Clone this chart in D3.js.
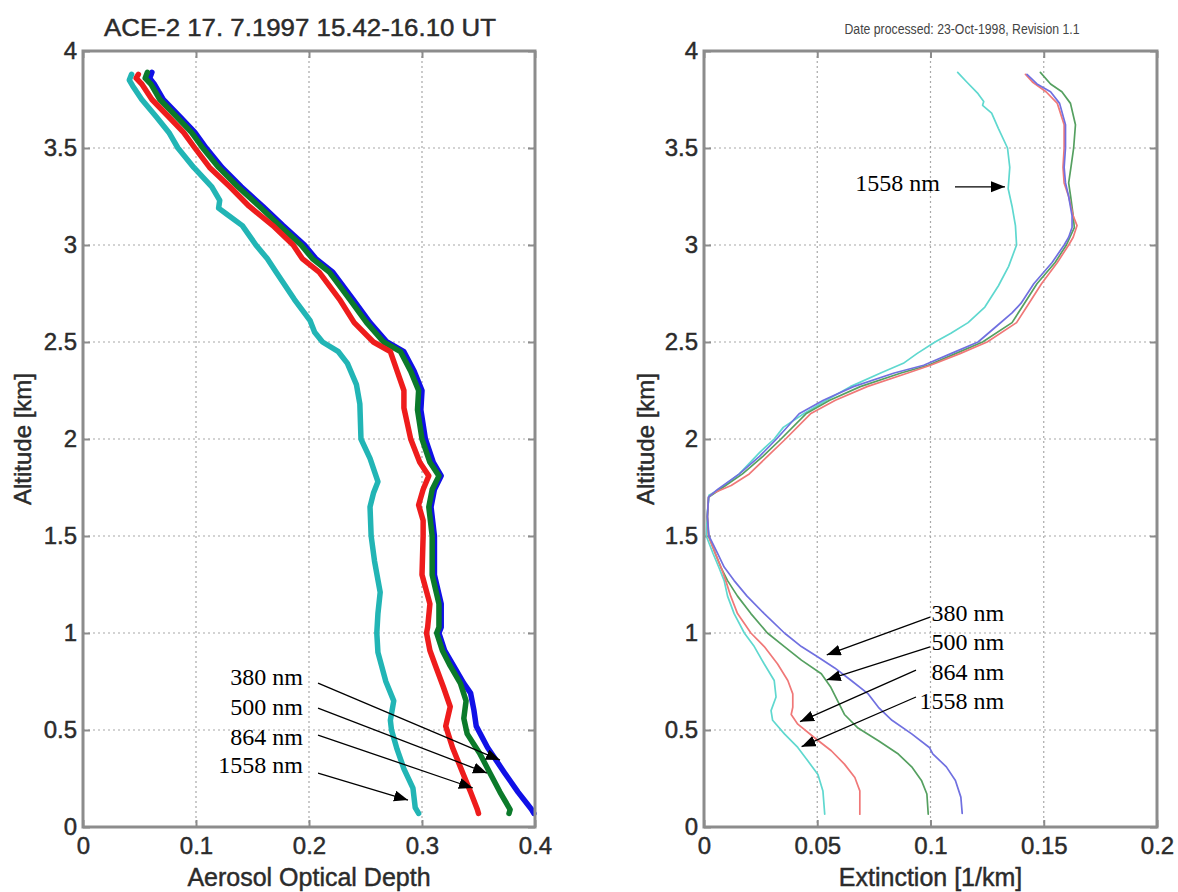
<!DOCTYPE html>
<html><head><meta charset="utf-8">
<script src="https://cdn.jsdelivr.net/npm/d3@7"></script>
<style>body{margin:0;background:#fff}svg{display:block}</style>
</head><body><svg id="c" width="1178" height="892"></svg>
<script>
// ---------- data ----------
const altTicks=[0,0.5,1,1.5,2,2.5,3,3.5,4];
const altTickLabels=["0","0.5","1","1.5","2","2.5","3","3.5","4"];
const aodTicks=[0,0.1,0.2,0.3,0.4];
const aodTickLabels=["0","0.1","0.2","0.3","0.4"];
const extTicks=[0,0.05,0.1,0.15,0.2];
const extTickLabels=["0","0.05","0.1","0.15","0.2"];
const wavelengths=["380 nm","500 nm","864 nm","1558 nm"];
const leftTitle="ACE-2 17. 7.1997 15.42-16.10 UT";
const rightTitle="Date processed: 23-Oct-1998, Revision 1.1";

// AOD profiles: [altitude km, aerosol optical depth]
const aod380=[[3.89,0.061],[3.86,0.059],[3.83,0.063],[3.75,0.071],[3.66,0.086],[3.58,0.099],[3.5,0.109],[3.4,0.123],[3.3,0.140],[3.2,0.159],[3.1,0.177],[3.0,0.196],[2.93,0.206],[2.86,0.221],[2.72,0.239],[2.6,0.254],[2.5,0.269],[2.45,0.284],[2.35,0.293],[2.25,0.300],[2.15,0.299],[2.0,0.303],[1.88,0.310],[1.81,0.317],[1.74,0.311],[1.65,0.308],[1.5,0.311],[1.3,0.311],[1.15,0.317],[1.03,0.317],[1.0,0.315],[0.91,0.320],[0.83,0.328],[0.74,0.337],[0.69,0.343],[0.6,0.346],[0.52,0.348],[0.41,0.358],[0.28,0.373],[0.18,0.385],[0.09,0.397],[0.07,0.399]];
const aod500=[[3.89,0.057],[3.86,0.055],[3.83,0.060],[3.75,0.068],[3.66,0.083],[3.58,0.096],[3.5,0.106],[3.4,0.120],[3.3,0.137],[3.2,0.156],[3.1,0.174],[3.0,0.193],[2.93,0.203],[2.86,0.218],[2.72,0.236],[2.6,0.251],[2.5,0.266],[2.45,0.281],[2.35,0.290],[2.25,0.297],[2.15,0.296],[2.0,0.300],[1.88,0.307],[1.81,0.315],[1.74,0.309],[1.65,0.306],[1.5,0.309],[1.3,0.309],[1.15,0.315],[1.03,0.315],[1.0,0.313],[0.91,0.318],[0.83,0.325],[0.74,0.334],[0.65,0.339],[0.56,0.337],[0.48,0.340],[0.38,0.351],[0.28,0.360],[0.18,0.369],[0.09,0.378],[0.07,0.377]];
const aod864=[[3.88,0.049],[3.86,0.047],[3.83,0.052],[3.75,0.061],[3.66,0.076],[3.58,0.089],[3.5,0.099],[3.4,0.112],[3.3,0.130],[3.2,0.147],[3.1,0.168],[3.0,0.186],[2.93,0.194],[2.86,0.209],[2.72,0.227],[2.6,0.240],[2.5,0.257],[2.45,0.272],[2.35,0.278],[2.25,0.284],[2.16,0.284],[2.0,0.290],[1.88,0.298],[1.81,0.306],[1.74,0.301],[1.66,0.297],[1.58,0.301],[1.5,0.301],[1.3,0.300],[1.15,0.307],[1.03,0.305],[1.0,0.304],[0.91,0.307],[0.83,0.312],[0.72,0.319],[0.62,0.325],[0.52,0.321],[0.41,0.327],[0.28,0.336],[0.18,0.343],[0.09,0.349],[0.07,0.350]];
const aod1558=[[3.88,0.043],[3.85,0.041],[3.82,0.044],[3.75,0.052],[3.66,0.065],[3.58,0.076],[3.5,0.084],[3.4,0.098],[3.3,0.114],[3.23,0.121],[3.19,0.120],[3.16,0.127],[3.1,0.141],[3.0,0.153],[2.93,0.163],[2.86,0.171],[2.72,0.187],[2.61,0.201],[2.55,0.205],[2.5,0.212],[2.45,0.226],[2.39,0.234],[2.28,0.242],[2.18,0.245],[2.0,0.246],[1.9,0.254],[1.78,0.261],[1.72,0.257],[1.65,0.254],[1.5,0.255],[1.37,0.258],[1.21,0.263],[1.1,0.261],[1.0,0.260],[0.9,0.261],[0.75,0.268],[0.65,0.275],[0.55,0.272],[0.5,0.273],[0.4,0.278],[0.3,0.284],[0.2,0.292],[0.1,0.294],[0.07,0.297]];

// Extinction profiles: [altitude km, extinction 1/km]
const ext380=[[3.88,0.1426],[3.83,0.147],[3.79,0.153],[3.73,0.157],[3.62,0.1596],[3.5,0.1596],[3.4,0.159],[3.32,0.1596],[3.25,0.161],[3.15,0.1625],[3.09,0.1625],[3.04,0.161],[3.0,0.159],[2.91,0.1537],[2.8,0.1456],[2.7,0.140],[2.65,0.136],[2.58,0.129],[2.5,0.121],[2.44,0.109],[2.38,0.097],[2.34,0.084],[2.27,0.066],[2.2,0.0527],[2.13,0.042],[2.0,0.032],[1.91,0.0245],[1.82,0.0156],[1.74,0.006],[1.7,0.002],[1.6,0.0015],[1.5,0.0022],[1.41,0.006],[1.34,0.0089],[1.27,0.0133],[1.19,0.019],[1.1,0.0266],[1.0,0.0355],[0.93,0.043],[0.876,0.0503],[0.82,0.0577],[0.755,0.065],[0.686,0.0725],[0.617,0.077],[0.55,0.083],[0.48,0.0917],[0.41,0.0995],[0.377,0.101],[0.31,0.107],[0.24,0.111],[0.154,0.1134],[0.07,0.114]];
const ext500=[[3.89,0.1485],[3.83,0.153],[3.79,0.158],[3.73,0.1618],[3.62,0.164],[3.5,0.1632],[3.4,0.162],[3.32,0.161],[3.24,0.162],[3.15,0.163],[3.09,0.1635],[3.0,0.160],[2.91,0.155],[2.8,0.147],[2.7,0.1415],[2.6,0.136],[2.5,0.123],[2.44,0.111],[2.38,0.099],[2.34,0.087],[2.27,0.069],[2.2,0.0555],[2.13,0.045],[2.0,0.034],[1.91,0.026],[1.82,0.017],[1.74,0.007],[1.7,0.002],[1.6,0.0015],[1.5,0.002],[1.41,0.005],[1.34,0.0074],[1.27,0.0104],[1.19,0.0148],[1.1,0.0207],[1.0,0.028],[0.93,0.0355],[0.86,0.043],[0.79,0.0518],[0.72,0.056],[0.65,0.059],[0.58,0.062],[0.51,0.068],[0.445,0.077],[0.376,0.0858],[0.31,0.0917],[0.24,0.096],[0.17,0.0984],[0.066,0.099]];
const ext864=[[3.88,0.1419],[3.84,0.145],[3.79,0.151],[3.73,0.156],[3.62,0.159],[3.5,0.159],[3.4,0.1585],[3.32,0.159],[3.25,0.161],[3.15,0.163],[3.1,0.1647],[3.04,0.163],[3.0,0.161],[2.91,0.156],[2.8,0.149],[2.7,0.1435],[2.6,0.138],[2.5,0.125],[2.44,0.113],[2.38,0.100],[2.34,0.090],[2.27,0.072],[2.2,0.058],[2.13,0.047],[2.0,0.036],[1.91,0.028],[1.82,0.020],[1.76,0.012],[1.72,0.004],[1.7,0.002],[1.6,0.0015],[1.5,0.002],[1.41,0.005],[1.34,0.0075],[1.27,0.0096],[1.19,0.0118],[1.1,0.0148],[1.0,0.0207],[0.93,0.0266],[0.84,0.0325],[0.755,0.037],[0.686,0.0392],[0.617,0.0392],[0.58,0.0385],[0.53,0.0414],[0.46,0.0488],[0.393,0.0562],[0.324,0.062],[0.255,0.0666],[0.186,0.0688],[0.066,0.0688]];
const ext1558=[[3.89,0.112],[3.84,0.116],[3.78,0.121],[3.74,0.1235],[3.72,0.123],[3.68,0.127],[3.6,0.130],[3.5,0.134],[3.4,0.135],[3.29,0.1343],[3.2,0.136],[3.1,0.1375],[3.0,0.138],[2.89,0.1345],[2.79,0.130],[2.68,0.124],[2.6,0.1166],[2.545,0.109],[2.5,0.102],[2.44,0.094],[2.39,0.088],[2.34,0.078],[2.27,0.0646],[2.2,0.054],[2.13,0.044],[2.06,0.035],[2.0,0.031],[1.93,0.0245],[1.82,0.0156],[1.74,0.0067],[1.71,0.0022],[1.62,0.0015],[1.5,0.001],[1.41,0.004],[1.34,0.0065],[1.27,0.0089],[1.19,0.0104],[1.1,0.0133],[1.0,0.0178],[0.93,0.0222],[0.84,0.0266],[0.755,0.031],[0.67,0.0318],[0.6,0.0296],[0.55,0.0303],[0.48,0.0355],[0.41,0.0414],[0.34,0.0459],[0.27,0.0503],[0.186,0.0525],[0.066,0.0533]];

// annotation anchors in data units: [value, altitude]
const leftLabelPos=[[0.1947,0.773],[0.1947,0.619],[0.1947,0.464],[0.1947,0.32]];
const leftArrowFrom=[[0.208,0.742],[0.208,0.613],[0.208,0.474],[0.208,0.278]];
const leftArrowTo=[[0.369,0.345],[0.3575,0.278],[0.345,0.201],[0.2876,0.139]];
const rightLabelPos=[[0.1325,1.103],[0.1325,0.954],[0.1325,0.799],[0.1325,0.649]];
const rightArrowFrom=[[0.0998,1.082],[0.0998,0.928],[0.0936,0.809],[0.0936,0.670]];
const rightArrowTo=[[0.0542,0.887],[0.0542,0.758],[0.0424,0.543],[0.0431,0.414]];
const topLabelPos=[0.1042,3.32];
const topArrowFrom=[0.1108,3.30];
const topArrowTo=[0.1329,3.30];

// ---------- drawing ----------
const svg=d3.select("#c");
svg.append("rect").attr("width",1178).attr("height",892).attr("fill","#fff");
svg.append("defs").append("marker").attr("id","ah")
  .attr("markerUnits","userSpaceOnUse").attr("markerWidth",15).attr("markerHeight",12)
  .attr("refX",14).attr("refY",5.5).attr("orient","auto")
  .append("path").attr("d","M0,0 L14,5.5 L0,11 Z").attr("fill","#000");

const SANS="'Liberation Sans', Arial, Helvetica, sans-serif";
const SERIF="'Liberation Serif', 'Times New Roman', serif";
const y=d3.scaleLinear().domain([0,4]).range([827,51]);
const frameCol="#8c8c8c", txtCol="#2b2b2b";
const heavy=(t)=>t.attr("stroke",txtCol).attr("stroke-width",0.45);

function panel(x, xTicks, xLabels, xTitle, series, colors, lw, yLabelX){
  const g=svg.append("g");
  const [x0,x1]=x.range();
  // grid
  xTicks.slice(1,-1).forEach(t=>g.append("line").attr("x1",x(t)).attr("x2",x(t)).attr("y1",y(4)).attr("y2",y(0))
     .attr("stroke","#a8a8a8").attr("stroke-width",1.2).attr("stroke-dasharray","2,3"));
  altTicks.slice(1,-1).forEach(t=>g.append("line").attr("x1",x0).attr("x2",x1).attr("y1",y(t)).attr("y2",y(t))
     .attr("stroke","#a8a8a8").attr("stroke-width",1.2).attr("stroke-dasharray","2,3"));
  // axes
  const style=(a)=>{a.select(".domain").remove();
    a.selectAll(".tick line").attr("stroke",frameCol).attr("stroke-width",2);
    a.selectAll("text").attr("font-family",SANS).attr("font-size",24).attr("fill",txtCol).call(heavy);};
  g.append("g").attr("transform",`translate(0,${y(0)})`)
    .call(d3.axisBottom(x).tickValues(xTicks).tickFormat((d,i)=>xLabels[i]).tickSizeInner(-7).tickSizeOuter(0).tickPadding(10)).call(style);
  g.append("g").attr("transform",`translate(0,${y(4)})`)
    .call(d3.axisTop(x).tickValues(xTicks).tickFormat("").tickSizeInner(-7).tickSizeOuter(0)).call(style);
  g.append("g").attr("transform",`translate(${x0},0)`)
    .call(d3.axisLeft(y).tickValues(altTicks).tickFormat((d,i)=>altTickLabels[i]).tickSizeInner(-7).tickSizeOuter(0).tickPadding(6)).call(style);
  g.append("g").attr("transform",`translate(${x1},0)`)
    .call(d3.axisRight(y).tickValues(altTicks).tickFormat("").tickSizeInner(-7).tickSizeOuter(0)).call(style);
  // curves
  const line=d3.line().x(d=>x(d[1])).y(d=>y(d[0]));
  series.forEach((s,i)=>g.append("path").attr("d",line(s)).attr("fill","none").attr("stroke",colors[i])
     .attr("stroke-width",lw).attr("stroke-linejoin","round").attr("stroke-linecap","round"));
  // frame
  g.append("rect").attr("x",x0).attr("y",y(4)).attr("width",x1-x0).attr("height",y(0)-y(4))
    .attr("fill","none").attr("stroke",frameCol).attr("stroke-width",3);
  // axis titles
  g.append("text").attr("x",(x0+x1)/2).attr("y",886).attr("text-anchor","middle")
    .attr("font-family",SANS).attr("font-size",25).attr("fill",txtCol).call(heavy).text(xTitle);
  g.append("text").attr("transform",`translate(${yLabelX},${(y(0)+y(4))/2}) rotate(-90)`).attr("text-anchor","middle")
    .attr("dy","0.35em").attr("font-family",SANS).attr("font-size",24).attr("fill",txtCol).call(heavy).text("Altitude [km]");
  return g;
}
function annotate(g,x,pos,from,to,labels){
  labels.forEach((lab,i)=>{
    g.append("text").attr("x",x(pos[i][0])).attr("y",y(pos[i][1])).attr("dy","0.33em").attr("text-anchor","end")
      .attr("font-family",SERIF).attr("font-size",24).attr("fill","#000").text(lab);
    g.append("line").attr("x1",x(from[i][0])).attr("y1",y(from[i][1])).attr("x2",x(to[i][0])).attr("y2",y(to[i][1]))
      .attr("stroke","#000").attr("stroke-width",1.3).attr("marker-end","url(#ah)");
  });
}

const xAod=d3.scaleLinear().domain([0,0.4]).range([83,535]);
const xExt=d3.scaleLinear().domain([0,0.2]).range([704,1157]);

const gl=panel(xAod,aodTicks,aodTickLabels,"Aerosol Optical Depth",
  [aod1558,aod380,aod500,aod864],["#22b5b5","#1010e6","#0b7a2a","#ee1c1c"],5.5,23);
annotate(gl,xAod,leftLabelPos,leftArrowFrom,leftArrowTo,wavelengths);

const gr=panel(xExt,extTicks,extTickLabels,"Extinction [1/km]",
  [ext1558,ext500,ext864,ext380],["#5fd8cf","#55a060","#f07878","#7070e0"],1.7,646);
annotate(gr,xExt,rightLabelPos,rightArrowFrom,rightArrowTo,wavelengths);
annotate(gr,xExt,[topLabelPos],[topArrowFrom],[topArrowTo],["1558 nm"]);

svg.append("text").attr("x",300).attr("y",36).attr("text-anchor","middle")
  .attr("font-family",SANS).attr("font-size",24).attr("fill",txtCol).call(heavy)
  .attr("textLength",392).attr("lengthAdjust","spacingAndGlyphs").text(leftTitle);
svg.append("text").attr("x",962).attr("y",34).attr("text-anchor","middle")
  .attr("font-family",SANS).attr("font-size",14).attr("fill","#444")
  .attr("textLength",235).attr("lengthAdjust","spacingAndGlyphs").text(rightTitle);
</script></body></html>
